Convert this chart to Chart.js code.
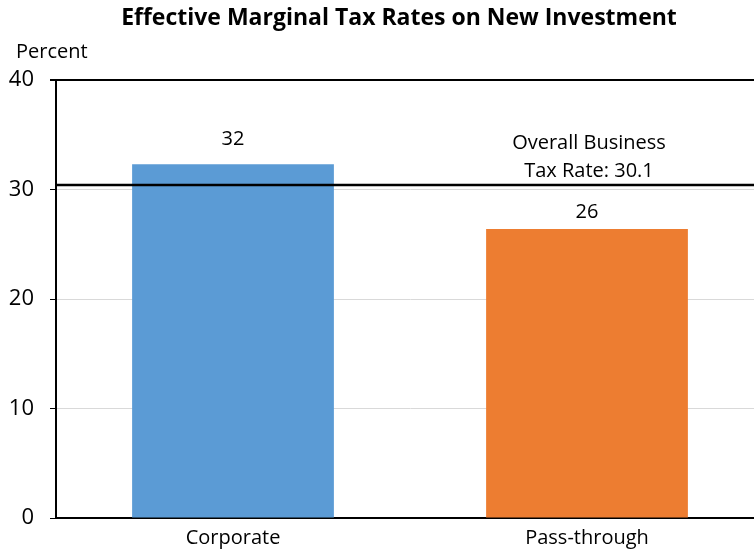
<!DOCTYPE html>
<html>
<head>
<meta charset="utf-8">
<script src="https://cdn.jsdelivr.net/npm/chart.js@4.4.0/dist/chart.umd.min.js"></script>
<style>
  html, body { margin: 0; padding: 0; background: #fff; overflow: hidden; }
  #wrap { width: 764px; height: 554px; }
</style>
</head>
<body>
<div id="wrap"><canvas id="taxChart"></canvas></div>
<script>
// Dados do gráfico
const categories = ["Corporate", "Pass-through"];
const rates = [32.3, 26.4];
const rateLabels = ["32", "26"];
const barColors = ["#5B9BD5", "#ED7D31"];
const yTicks = [0, 10, 20, 30, 40];
const overallRate = 30.4;
const overallLabel = ["Overall Business", "Tax Rate: 30.1"];

const FONT = "'Open Sans', 'Noto Sans', sans-serif";
const labelGap = [25, 17];

// Título, rótulo "Percent", linha geral e valores das barras
const extras = {
    id: "extras",
    afterDatasetsDraw(chart) {
        const ctx = chart.ctx;
        const area = chart.chartArea;
        const y = chart.scales.y;
        ctx.save();

        ctx.fillStyle = "#000";
        ctx.textAlign = "center";
        ctx.textBaseline = "middle";
        ctx.font = "bold 23px " + FONT;
        ctx.fillText("Effective Marginal Tax Rates on New Investment", 399, 18);

        ctx.textAlign = "left";
        ctx.font = "20px " + FONT;
        ctx.fillText("Percent", 16, 52);

        // linha da taxa geral
        const ly = y.getPixelForValue(overallRate);
        ctx.strokeStyle = "#000";
        ctx.lineWidth = 2.5;
        ctx.beginPath();
        ctx.moveTo(area.left, ly);
        ctx.lineTo(area.right, ly);
        ctx.stroke();

        ctx.textAlign = "center";
        ctx.fillText(overallLabel[0], 589, 143);
        ctx.fillText(overallLabel[1], 589, 171);

        // valores acima das barras
        const meta = chart.getDatasetMeta(0);
        meta.data.forEach((bar, i) => {
            ctx.fillText(rateLabels[i], bar.x, bar.y - labelGap[i]);
        });
        ctx.restore();
    }
};

const ctx = document.getElementById("taxChart").getContext("2d");
const taxChart = new Chart(ctx, {
    type: "bar",
    data: {
        labels: categories,
        datasets: [{
            data: rates,
            backgroundColor: barColors,
            borderWidth: 0,
            categoryPercentage: 1,
            barPercentage: 0.57
        }]
    },
    options: {
        responsive: true,
        maintainAspectRatio: false,
        animation: false,
        devicePixelRatio: 1,
        layout: { padding: { top: 80, left: 0, right: 0, bottom: 0 } },
        plugins: {
            legend: { display: false },
            tooltip: { enabled: false }
        },
        scales: {
            x: {
                grid: { display: false, drawTicks: false },
                border: { color: "#000", width: 2 },
                ticks: { color: "#000", font: { family: FONT, size: 20 }, padding: 8 },
                afterFit(scale) { scale.height = 36; }
            },
            y: {
                min: 0,
                max: 40,
                afterBuildTicks(scale) { scale.ticks = yTicks.map(v => ({ value: v })); },
                grid: {
                    color: c => (c.tick && c.tick.value === 40) ? "#000" : "#d9d9d9",
                    lineWidth: c => (c.tick && c.tick.value === 40) ? 2 : 1,
                    tickColor: "#000",
                    tickLength: 6
                },
                border: { color: "#000", width: 2 },
                ticks: { color: "#000", font: { family: FONT, size: 22 }, padding: 16 },
                afterFit(scale) { scale.width = 56; }
            }
        }
    },
    plugins: [extras]
});
</script>
</body>
</html>
